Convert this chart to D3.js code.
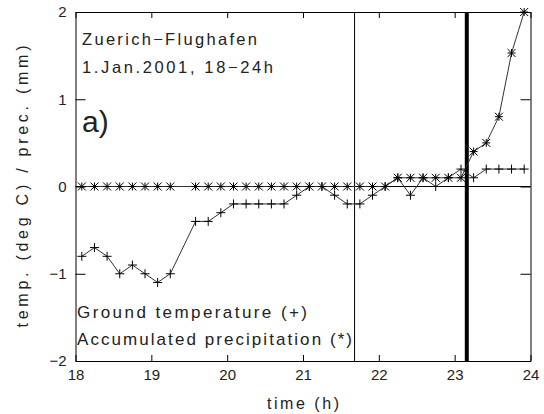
<!DOCTYPE html>
<html>
<head>
<meta charset="utf-8">
<script src="https://cdn.jsdelivr.net/npm/d3@7"></script>
<style>
  body { margin: 0; background: #fff; }
  text { font-family: "Liberation Sans", "DejaVu Sans", sans-serif; fill: #222; }
</style>
</head>
<body>
<div id="chart"></div>
<script>
// observation times (10 min steps), 18:05 .. 23:55
const times = ["18:05","18:15","18:25","18:35","18:45","18:55",
               "19:05","19:15","19:25","19:35","19:45","19:55",
               "20:05","20:15","20:25","20:35","20:45","20:55",
               "21:05","21:15","21:25","21:35","21:45","21:55",
               "22:05","22:15","22:25","22:35","22:45","22:55",
               "23:05","23:15","23:25","23:35","23:45","23:55"];

// ground temperature (deg C), null = missing
const groundTemp = [-0.8,-0.7,-0.8,-1.0,-0.9,-1.0,-1.1,-1.0,null,-0.4,-0.4,-0.3,
                    -0.2,-0.2,-0.2,-0.2,-0.2,-0.1,0.0,0.0,-0.1,-0.2,-0.2,-0.1,
                    0.0,0.1,-0.1,0.1,0.0,0.1,0.2,0.1,0.2,0.2,0.2,0.2];

// accumulated precipitation (mm)
const accPrecip = [0,0,0,0,0,0,0,0,null,0,0,0,
                   0,0,0,0,0,0,0,0,0,0,0,0,
                   0,0.1,0.1,0.1,0.1,0.1,0.1,0.4,0.5,0.8,1.53,2.0];

const xTicks = [18,19,20,21,22,23,24];
const yTicks = [-2,-1,0,1,2];
const markerLines = [21.68, 23.16]; // thin and thick vertical lines

const toHours = s => +s.split(":")[0] + (+s.split(":")[1]) / 60;

const W = 544, H = 414;
const svg = d3.select("#chart").append("svg")
    .attr("width", W).attr("height", H);

const x = d3.scaleLinear().domain([18, 24]).range([75.5, 530.5]);
const y = d3.scaleLinear().domain([-2, 2]).range([361, 12]);

// axes
svg.append("g")
    .attr("transform", "translate(0," + y(-2) + ")")
    .call(d3.axisBottom(x).tickValues(xTicks).tickFormat(d3.format("d"))
        .tickSizeInner(-6).tickSizeOuter(0).tickPadding(8));
svg.append("g")
    .attr("transform", "translate(0," + y(2) + ")")
    .call(d3.axisTop(x).tickValues(xTicks).tickFormat("")
        .tickSizeInner(-6).tickSizeOuter(0));
svg.append("g")
    .attr("transform", "translate(" + x(18) + ",0)")
    .call(d3.axisLeft(y).tickValues(yTicks).tickFormat(d => d < 0 ? "\u2212" + (-d) : d)
        .tickSizeInner(-10).tickSizeOuter(0).tickPadding(9));
svg.append("g")
    .attr("transform", "translate(" + x(24) + ",0)")
    .call(d3.axisLeft(y).tickValues(yTicks).tickFormat("")
        .tickSizeInner(10).tickSizeOuter(0));

svg.selectAll(".domain, .tick line").attr("stroke", "#000").attr("stroke-width", 1);
svg.selectAll(".tick text").attr("font-size", 15).attr("fill", "#222")
    .style("font-family", "Liberation Sans, sans-serif");

// zero line
svg.append("line")
    .attr("x1", x(18)).attr("x2", x(24))
    .attr("y1", y(0)).attr("y2", y(0))
    .attr("stroke", "#000");

// vertical marker lines
svg.selectAll(".vline").data(markerLines).enter().append("line")
    .attr("x1", d => x(d)).attr("x2", d => x(d))
    .attr("y1", y(2)).attr("y2", y(-2))
    .attr("stroke", "#000")
    .attr("stroke-width", (d, i) => i == 0 ? 1 : 4);

// series
const mk = vals => times.map((t, i) => ({ t: toHours(t), v: vals[i] })).filter(d => d.v != null);
const temp = mk(groundTemp);
const prec = mk(accPrecip);

const line = d3.line().x(d => x(d.t)).y(d => y(d.v));

svg.append("path").datum(prec).attr("d", line)
    .attr("fill", "none").attr("stroke", "#333").attr("stroke-width", 1);
svg.append("path").datum(temp).attr("d", line)
    .attr("fill", "none").attr("stroke", "#333").attr("stroke-width", 1);

// "+" markers
const plus = svg.append("g").attr("stroke", "#000").attr("stroke-width", 1);
temp.forEach(d => {
    const cx = x(d.t), cy = y(d.v);
    plus.append("path").attr("d", `M${cx - 4.5},${cy}H${cx + 4.5}M${cx},${cy - 4.5}V${cy + 4.5}`);
});

// "*" markers
const star = svg.append("g").attr("stroke", "#000").attr("stroke-width", 1);
prec.forEach(d => {
    const cx = x(d.t), cy = y(d.v), r = 4;
    star.append("path").attr("d",
        `M${cx - r},${cy}H${cx + r}M${cx},${cy - r}V${cy + r}` +
        `M${cx - r},${cy - r}L${cx + r},${cy + r}M${cx - r},${cy + r}L${cx + r},${cy - r}`);
});

// annotations
svg.append("text").attr("x", 82).attr("y", 45).attr("font-size", 16.5)
    .attr("textLength", 175).attr("lengthAdjust", "spacing")
    .text("Zuerich\u2212Flughafen");
svg.append("text").attr("x", 82).attr("y", 73).attr("font-size", 16.5)
    .attr("textLength", 191).attr("lengthAdjust", "spacing")
    .text("1.Jan.2001, 18\u221224h");
svg.append("text").attr("x", 82).attr("y", 132).attr("font-size", 30)
    .text("a)");
svg.append("text").attr("x", 77).attr("y", 318).attr("font-size", 17)
    .attr("textLength", 230).attr("lengthAdjust", "spacing")
    .text("Ground temperature (+)");
svg.append("text").attr("x", 77).attr("y", 345).attr("font-size", 17)
    .attr("textLength", 275).attr("lengthAdjust", "spacing")
    .text("Accumulated precipitation (*)");

// axis titles
svg.append("text").attr("x", x(21)).attr("y", 409).attr("font-size", 16)
    .attr("text-anchor", "middle")
    .attr("textLength", 72).attr("lengthAdjust", "spacing")
    .text("time (h)");
svg.append("text")
    .attr("transform", "translate(28," + y(0) + ") rotate(-90)")
    .attr("font-size", 16).attr("text-anchor", "middle")
    .attr("textLength", 282).attr("lengthAdjust", "spacing")
    .text("temp. (deg C) / prec. (mm)");
</script>
</body>
</html>
